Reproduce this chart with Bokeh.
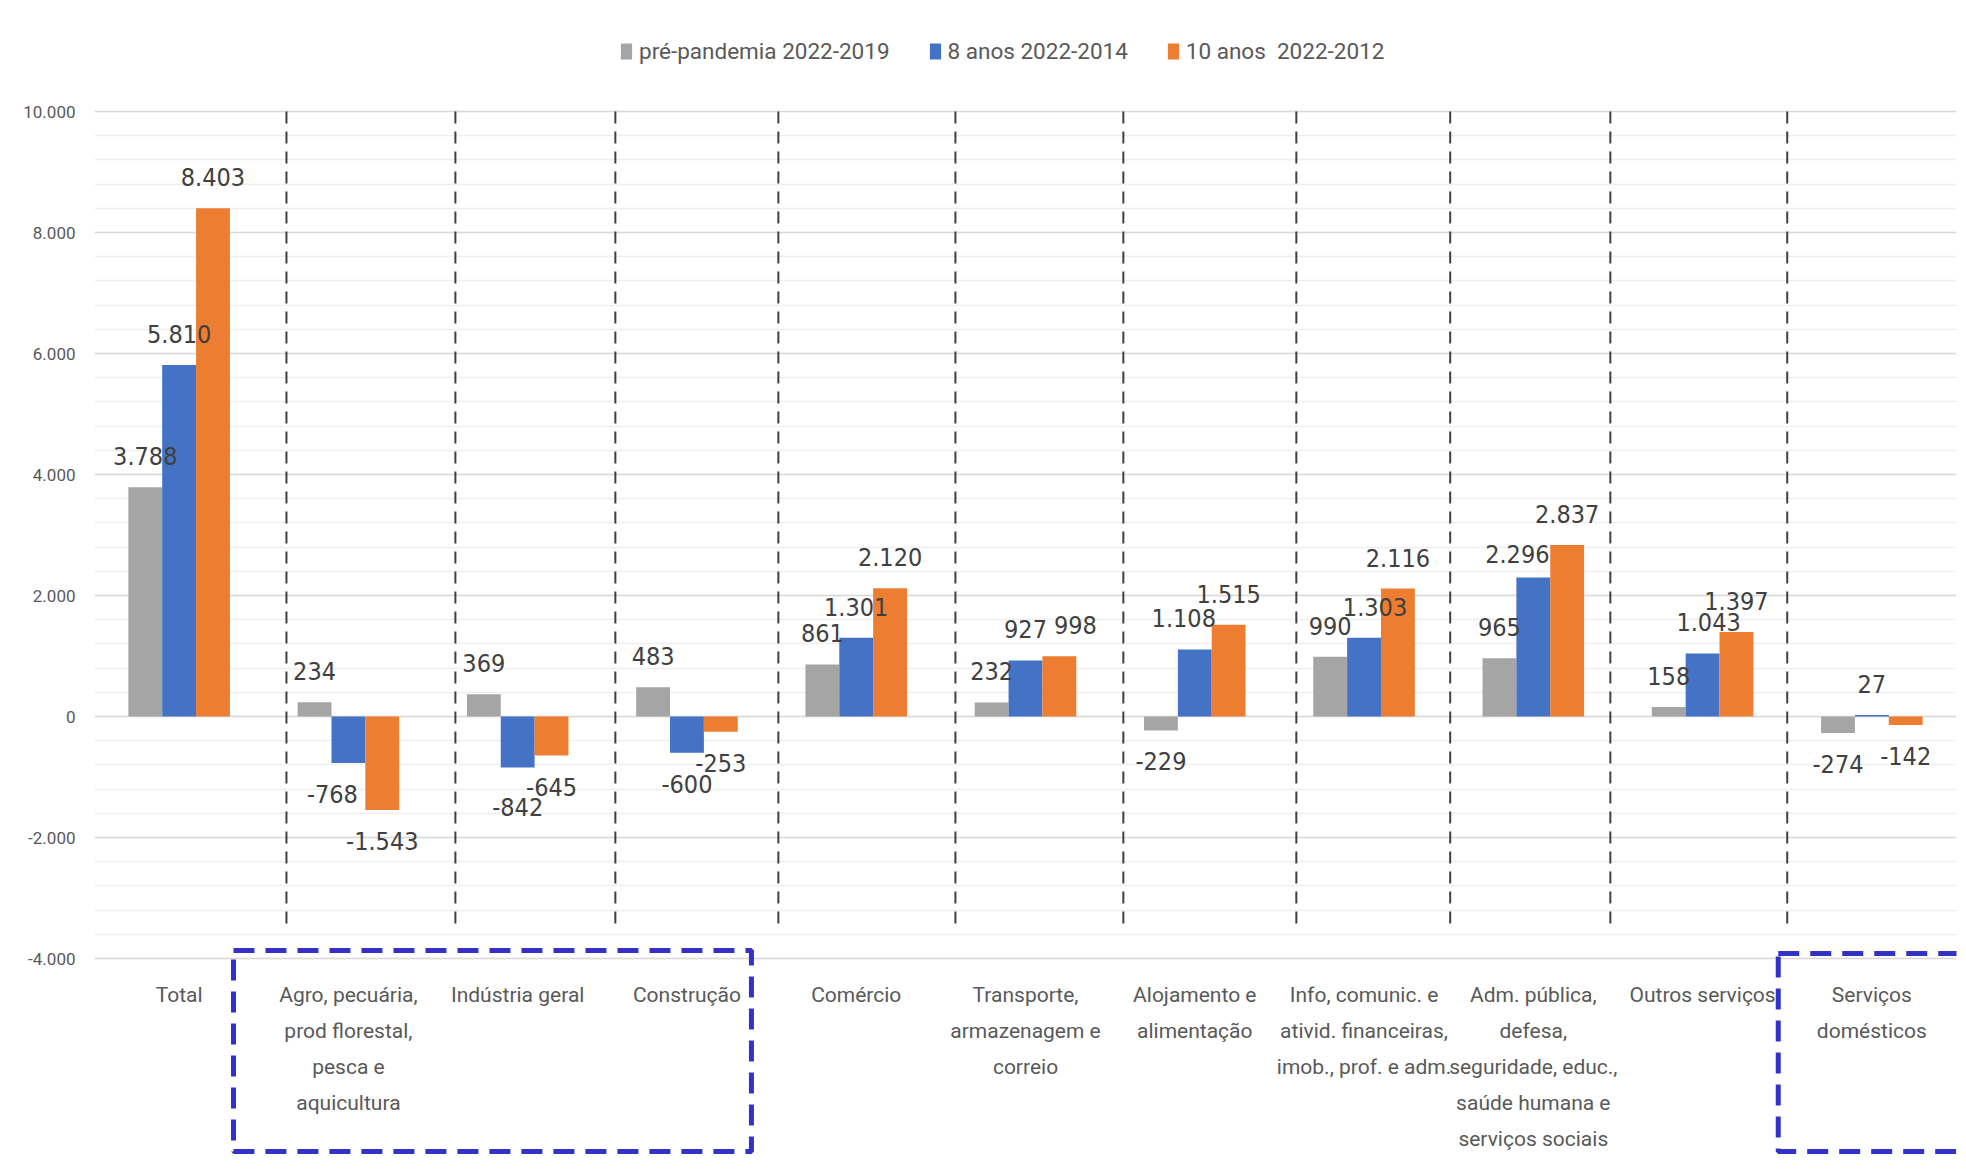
import numpy as np
from bokeh.plotting import figure
from bokeh.models import (ColumnDataSource, Range1d, FixedTicker, Legend, LegendItem, LinearAxis)
from bokeh.core.properties import value
from bokeh.embed import file_html
from bokeh.resources import INLINE

# ---------------- data ----------------
categories = [
    "Total",
    "Agro, pecuária,\nprod florestal,\npesca e\naquicultura",
    "Indústria geral",
    "Construção",
    "Comércio",
    "Transporte,\narmazenagem e\ncorreio",
    "Alojamento e\nalimentação",
    "Info, comunic. e\nativid. financeiras,\nimob., prof. e adm.",
    "Adm. pública,\ndefesa,\nseguridade, educ.,\nsaúde humana e\nserviços sociais",
    "Outros serviços",
    "Serviços\ndomésticos",
]
series_names = ["pré-pandemia 2022-2019", "8 anos 2022-2014", "10 anos  2022-2012"]
pre_pandemia = [3788, 234, 369, 483, 861, 232, -229, 990, 965, 158, -274]
oito_anos = [5810, -768, -842, -600, 1301, 927, 1108, 1303, 2296, 1043, 27]
dez_anos = [8403, -1543, -645, -253, 2120, 998, 1515, 2116, 2837, 1397, -142]
y_ticks = [-4000, -2000, 0, 2000, 4000, 6000, 8000, 10000]
y_minor = list(range(-4000, 10001, 400))

# ---------------- styling / layout ----------------
colors = ["#A5A5A5", "#4472C4", "#ED7D31"]
FONT = "Roboto"
LABEL_FONT = "DejaVu Sans Condensed"
offsets = [-0.2, 0.0, 0.2]
bar_w = 0.2
# label nudges (screen px) for manually moved data labels
nudge_x = [
    [0] * 11,
    [0, -16, 0, 0, 0, 0, -11, 11, -16, 6, 0],
    [0, 0, 0, 0, 0, 16, 0, 0, 0, 0, 0],
]
nudge_y = [
    [0] * 11,
    [0, 0, 9, 0, 0, 0, 0, 0, 7, 0, 0],
    [0] * 11,
]
label_gap = 31

# separators (category units) and highlight boxes (annotations)
separators = [0.634, 1.632, 2.577, 3.540, 4.586, 5.578, 6.600, 7.509, 8.455, 9.500]
sep_top, sep_bottom = 10000, -3500
boxes = [(0.321, 3.381, -3868, -7190), (9.447, 10.9, -3917, -7190)]

W, H = 1960, 1165
p = figure(width=W, height=H, output_backend="svg", toolbar_location=None,
           x_range=Range1d(-0.5, 10.5), y_range=Range1d(-7421, 11835),
           x_axis_location=None, y_axis_location=None,
           min_border_left=94, min_border_right=4, min_border_top=0, min_border_bottom=0)
p.outline_line_color = None
p.background_fill_color = "white"
p.border_fill_color = "white"

yaxis = LinearAxis(ticker=FixedTicker(ticks=y_ticks, minor_ticks=y_minor))
yaxis.axis_line_color = None
yaxis.major_tick_line_color = None
yaxis.minor_tick_line_color = None
yaxis.major_tick_out = 0
yaxis.major_label_standoff = 15
yaxis.major_label_text_font = FONT
yaxis.major_label_text_font_size = "17px"
yaxis.major_label_text_color = "#595959"
yaxis.major_label_overrides = {t: f"{t:,}".replace(",", ".") for t in y_ticks}
p.add_layout(yaxis, "left")

p.xgrid.visible = False
p.ygrid.ticker = yaxis.ticker
p.ygrid.grid_line_color = "#D9D9D9"
p.ygrid.grid_line_width = 1.5
p.ygrid.minor_grid_line_color = "#EFEFEF"
p.ygrid.minor_grid_line_width = 1.5

idx = np.arange(len(categories))
renderers = []
label_sources = []
for j, vals in enumerate([pre_pandemia, oito_anos, dez_anos]):
    vals = np.array(vals)
    xs = idx + offsets[j]
    src = ColumnDataSource(dict(
        x=xs, top=vals,
        text=[f"{v:,}".replace(",", ".") for v in vals],
        xo=nudge_x[j],
        yo=[(-label_gap if v >= 0 else label_gap) + ny for v, ny in zip(vals, nudge_y[j])],
    ))
    r = p.vbar(x="x", top="top", bottom=0, width=bar_w, source=src,
               fill_color=colors[j], line_color=None)
    renderers.append(r)
    label_sources.append(src)

for src in label_sources:
    p.text(x="x", y="top", text="text", x_offset="xo", y_offset="yo", source=src,
           text_align="center", text_baseline="middle",
           text_font=value(LABEL_FONT), text_font_size="25px", text_color="#404040")

# vertical dashed separators
p.segment(x0=separators, y0=[sep_top] * len(separators), x1=separators,
          y1=[sep_bottom] * len(separators), line_color="#404040", line_width=2,
          line_dash="12 8")

# category labels
cat_src = ColumnDataSource(dict(x=idx, y=[y_ticks[0]] * len(categories), text=categories))
p.text(x="x", y="y", text="text", source=cat_src, y_offset=24,
       text_align="center", text_baseline="top", text_line_height=1.5,
       text_font=value(FONT), text_font_size="21px", text_color="#595959")

# blue dashed highlight boxes
p.quad(left=[b[0] for b in boxes], right=[b[1] for b in boxes],
       top=[b[2] for b in boxes], bottom=[b[3] for b in boxes],
       fill_alpha=0, line_color="#3232C8", line_width=5, line_dash="21 11")

legend = Legend(items=[LegendItem(label=n, renderers=[r]) for n, r in zip(series_names, renderers)],
                orientation="horizontal", location=(525, 1101))
legend.border_line_color = None
legend.background_fill_alpha = 0
legend.glyph_width = 14
legend.glyph_height = 20
legend.label_standoff = 6
legend.spacing = 38
legend.padding = 0
legend.margin = 0
legend.label_text_font = FONT
legend.label_text_font_size = "22.5px"
legend.label_text_color = "#595959"
p.add_layout(legend)

open("out.html", "w").write(file_html(p, INLINE))
